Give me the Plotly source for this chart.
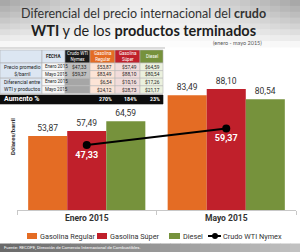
import plotly.graph_objects as go

# ---------------- data ----------------
categories = ["Enero 2015", "Mayo 2015"]
gas_regular = [53.87, 83.49]
gas_super = [57.49, 88.10]
diesel = [64.59, 80.54]
crudo_wti = [47.33, 59.37]

series_names = ["Gasolina Regular", "Gasolina Súper", "Diesel", "Crudo WTI Nymex"]

table_headers = ["FECHA", "Crudo WTI<br>Nymex", "Gasolina<br>Regular", "Gasolina<br>Súper", "Diesel"]
table_groups = ["Precio promedio<br>$/barril", "Diferencial entre<br>WTI y productos"]
table_dates = ["Enero 2015", "Mayo 2015", "Enero 2015", "Mayo 2015"]
table_crudo = ["$47,33", "$59,37", "", ""]
table_regular = ["$53,87", "$83,49", "$6,54", "$24,12"]
table_super = ["$57,49", "$88,10", "$10,16", "$28,73"]
table_diesel = ["$64,59", "$80,54", "$17,26", "$21,17"]
aumento_label = "Aumento %"
aumento = ["270%", "184%", "23%"]

title_1 = "Diferencial del precio internacional del <b>crudo</b>"
title_2 = "<b>WTI</b> y de los <b>productos terminados</b>"
subtitle = "(enero - mayo 2015)"
y_title = "Dólares/barril"
source = "Fuente: RECOPE, Dirección de Comercio Internacional de Combustibles."

# ---------------- styles ----------------
W, H = 300, 252
ORANGE = "#E46C24"
RED = "#C0202B"
GREEN = "#76923C"
FONT = "Roboto"


def px(x):
    return x / W


def py(y):
    return 1 - y / H


def fmt(v):
    return f"{v:.2f}".replace(".", ",")


fig = go.Figure()
for name, vals, col in [(series_names[0], gas_regular, ORANGE),
                        (series_names[1], gas_super, RED),
                        (series_names[2], diesel, GREEN)]:
    fig.add_trace(go.Bar(
        x=categories, y=vals, name=name, marker=dict(color=col, line=dict(width=0)),
        text=[fmt(v) for v in vals], textposition="outside", textangle=0,
        textfont=dict(family=FONT, size=8.5, color="#333333"),
        cliponaxis=False, showlegend=False,
    ))

fig.add_trace(go.Scatter(
    x=categories, y=crudo_wti, name=series_names[3], mode="lines+markers+text",
    line=dict(color="black", width=2), marker=dict(color="black", size=8),
    text=[f"<b>{fmt(v)}</b>" for v in crudo_wti], textposition="bottom center",
    textfont=dict(family=FONT, size=9, color="white"),
    cliponaxis=False, showlegend=False,
))

shapes = []
annotations = []

# title gradient band
NX, NY = 30, 8
for i in range(NX):
    for j in range(NY):
        x0, x1 = i * W / NX, (i + 1) * W / NX
        y0, y1 = j * 47 / NY, (j + 1) * 47 / NY
        xc, yc = (x0 + x1) / 2, (y0 + y1) / 2
        fx = 0.2 + 0.8 * (abs(xc - 150) / 150) ** 1.4
        fy = (1 - yc / 47) ** 0.9
        g = int(255 - 95 * fx * fy)
        shapes.append(dict(type="rect", xref="paper", yref="paper", layer="below",
                           x0=px(x0), x1=px(x1 + 0.5), y0=py(y1 + 0.5), y1=py(y0),
                           fillcolor=f"rgb({g},{g},{g})", line=dict(width=0)))

# footer band
NF = 30
for i in range(NF):
    x0, x1 = i * W / NF, (i + 1) * W / NF
    t = ((x0 + x1) / 2) / W
    g = int(105 + 90 * t)
    shapes.append(dict(type="rect", xref="paper", yref="paper", layer="below",
                       x0=px(x0), x1=px(x1 + 0.5), y0=py(252), y1=py(243.5),
                       fillcolor=f"rgb({g},{g},{g})", line=dict(width=0)))

# line under title
shapes.append(dict(type="line", xref="paper", yref="paper", x0=px(0), x1=px(165),
                   y0=py(48), y1=py(48), line=dict(color="#BBBBBB", width=1)))

# table
cx = [0, 42, 65, 90, 115, 140, 163]
ry = [50, 63, 70.6, 78.2, 85.8, 93.4]


def cell(x0, x1, y0, y1, fill, border="#FFFFFF"):
    shapes.append(dict(type="rect", xref="paper", yref="paper", layer="above",
                       x0=px(x0), x1=px(x1), y0=py(y1), y1=py(y0),
                       fillcolor=fill, line=dict(color=border, width=0.6)))


def txt(x, y, s, size=5.2, color="#222222", xanchor="left", bold=False):
    annotations.append(dict(xref="paper", yref="paper", x=px(x), y=py(y), text=(f"<b>{s}</b>" if bold else s),
                            showarrow=False, xanchor=xanchor, yanchor="middle",
                            font=dict(family=FONT, size=size, color=color)))


header_fills = ["#DCE6F2", "#DCE6F2", "#1A1A1A", ORANGE, RED, GREEN]
for c in range(6):
    cell(cx[c], cx[c + 1], ry[0], ry[1], header_fills[c], "#B0B0B0")
txt(cx[1] + 1.5, (ry[0] + ry[1]) / 2, table_headers[0], 4.6, "#222222", bold=True)
for k in range(1, 5):
    annotations.append(dict(xref="paper", yref="paper", x=px((cx[k + 1] + cx[k + 2]) / 2),
                            y=py((ry[0] + ry[1]) / 2), text=table_headers[k], showarrow=False,
                            xanchor="center", yanchor="middle",
                            font=dict(family=FONT, size=4.5, color="white")))

col_fills = ["#F7F7F7", None, "#FCE4D6", "#F2DCDB", "#EBF1DE"]
col_vals = [table_dates, table_crudo, table_regular, table_super, table_diesel]
for g in range(2):
    cell(cx[0], cx[1], ry[1 + 2 * g], ry[3 + 2 * g], "#DCE6F2", "#B0B0B0")
    txt(cx[0] + 1.5, (ry[1 + 2 * g] + ry[3 + 2 * g]) / 2, table_groups[g], 5.0, "#222222")
for r in range(4):
    y0, y1 = ry[1 + r], ry[2 + r]
    for k in range(5):
        fill = col_fills[k]
        if k == 1:
            fill = "#BFBFBF" if r < 2 else "#A6A6A6"
        cell(cx[k + 1], cx[k + 2], y0, y1, fill, "#B8B8B8")
        v = col_vals[k][r]
        if v:
            if k == 0:
                txt(cx[1] + 1.0, (y0 + y1) / 2, v, 4.5)
            else:
                txt(cx[k + 2] - 1.2, (y0 + y1) / 2, v, 4.8, xanchor="right")

# aumento row
cell(0, 163, 95, 104, "#0D0D0D", "#0D0D0D")
txt(2, 99.5, aumento_label, 7, "white", bold=True)
for k in range(3):
    txt(cx[k + 4] - 1.5, 99.5, aumento[k], 5.2, "white", xanchor="right", bold=True)

# titles
annotations.append(dict(xref="paper", yref="paper", x=px(143), y=py(13), text=title_1,
                        showarrow=False, xanchor="center", yanchor="middle",
                        font=dict(family="Lato", size=12.5, color="#333333")))
annotations.append(dict(xref="paper", yref="paper", x=px(143), y=py(30.5), text=title_2,
                        showarrow=False, xanchor="center", yanchor="middle",
                        font=dict(family="Lato", size=14.5, color="#1E1E1E")))
annotations.append(dict(xref="paper", yref="paper", x=px(237), y=py(42.5), text=subtitle,
                        showarrow=False, xanchor="center", yanchor="middle",
                        font=dict(family="Lato", size=5.5, color="#555555")))

# y title
annotations.append(dict(xref="paper", yref="paper", x=px(12), y=py(137), text=f"<b>{y_title}</b>",
                        showarrow=False, textangle=-90, xanchor="center", yanchor="middle",
                        font=dict(family=FONT, size=6, color="#333333")))

# source
annotations.append(dict(xref="paper", yref="paper", x=px(2), y=py(247.5), text=source,
                        showarrow=False, xanchor="left", yanchor="middle",
                        font=dict(family=FONT, size=4.3, color="white")))

# manual legend
LY = 236
LFS = 7.3
leg = [(ORANGE, 27, 37, 38, series_names[0]),
       (RED, 97, 107, 108, series_names[1]),
       (GREEN, 169, 180, 181, series_names[2])]
for col, x0, x1, xt, name in leg:
    shapes.append(dict(type="rect", xref="paper", yref="paper", x0=px(x0), x1=px(x1),
                       y0=py(LY + 3), y1=py(LY - 3), fillcolor=col, line=dict(width=0)))
    txt(xt, LY, name, LFS, "#333333")
shapes.append(dict(type="line", xref="paper", yref="paper", x0=px(208), x1=px(221),
                   y0=py(LY), y1=py(LY), line=dict(color="black", width=2)))
shapes.append(dict(type="circle", xref="paper", yref="paper", x0=px(212), x1=px(218),
                   y0=py(LY + 3), y1=py(LY - 3), fillcolor="black", line=dict(width=0)))
txt(221, LY, series_names[3], LFS, "#333333")

fig.update_layout(
    width=W, height=H, margin=dict(l=0, r=0, t=0, b=0),
    paper_bgcolor="white", plot_bgcolor="rgba(0,0,0,0)",
    barmode="group", bargap=0.16, bargroupgap=0,
    showlegend=False,
    shapes=shapes, annotations=annotations,
    font=dict(family=FONT),
    xaxis=dict(domain=[px(17), px(296)], range=[-0.5, 1.5], type="category",
               showline=True, linecolor="#C8C8C8", linewidth=1,
               ticks="outside", tickson="boundaries", ticklen=4, tickcolor="#C8C8C8",
               tickvals=categories, ticktext=[f"<b>{c}</b>" for c in categories],
               tickfont=dict(family=FONT, size=8.5, color="#333333"),
               showgrid=False, zeroline=False, fixedrange=True),
    yaxis=dict(domain=[py(210), py(72.6)], range=[0, 100], visible=False,
               showgrid=False, zeroline=False, fixedrange=True),
)

fig.write_html("out.html")
